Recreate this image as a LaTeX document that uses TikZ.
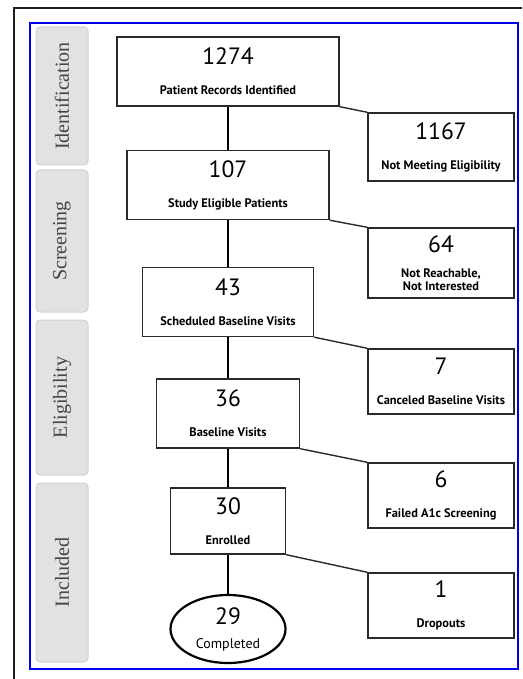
\documentclass[tikz,border=0pt]{standalone}
\usepackage{fontspec}
\setmainfont{Liberation Serif}
\setsansfont{PT Sans}
\usetikzlibrary{positioning, shapes.geometric}
\definecolor{tabfill}{HTML}{E2E2E2}
\definecolor{tabdraw}{HTML}{D2D2D2}
\definecolor{tabtext}{HTML}{444444}
\definecolor{boxline}{HTML}{2A2A2A}
\definecolor{framelue}{HTML}{0000F0}
\definecolor{outerline}{HTML}{1E1E1E}
\newcommand{\countnum}{\fontsize{11.8}{13}\selectfont\mdseries}
\newcommand{\countsub}{\fontsize{6.2}{6.8}\selectfont\bfseries}
\tikzset{
    stagebox/.style={
        draw=boxline, line width=0.7pt, fill=white,
        minimum width=#1, minimum height=34.5pt,
        inner sep=0pt, align=center, font=\sffamily,
    },
    sidebox/.style={
        draw=boxline, line width=0.7pt, fill=white,
        minimum width=73pt, minimum height=33pt,
        inner sep=0pt, align=center, font=\sffamily,
    },
    phasetab/.style={
        draw=tabdraw, fill=tabfill, rounded corners=2pt,
        line width=0.5pt,
        minimum width=26pt, minimum height=#1,
        inner sep=0pt,
    },
    phasetext/.style={
        font=\fontsize{10}{12}\selectfont, text=tabtext, rotate=90,
    },
    flowline/.style={line width=1.1pt, draw=black},
    exitline/.style={line width=0.7pt, draw=boxline},
}
\begin{document}
\begin{tikzpicture}[x=0.5pt, y=-0.5pt]
\useasboundingbox (0,0) rectangle (523,679);

% =============================================
% Outer frame lines and blue panel
% =============================================
\draw[outerline, line width=1pt] (14,679) -- (14,8) -- (522,8);
\draw[framelue, line width=1pt] (30,23) rectangle (518,669);

% =============================================
% Phase tabs (left column)
% =============================================
\node[phasetab=69pt] (tabident) at (62,96) {};
\node[phasetab=71pt] (tabscreen) at (62,241) {};
\node[phasetab=77.5pt] (tabelig) at (62,397.5) {};
\node[phasetab=89.5pt] (tabincl) at (62,572.5) {};
\node[phasetext] at (tabident) {Identification};
\node[phasetext] at (tabscreen) {Screening};
\node[phasetext] at (tabelig) {Eligibility};
\node[phasetext] at (tabincl) {Included};

% =============================================
% Main flow (centre column)
% =============================================
\node[stagebox=111pt] (records) at (228,71.5)
    {\countnum 1274\\[3pt]\countsub Patient Records Identified};
\node[stagebox=101pt] (eligible) at (228,185)
    {\countnum 107\\[3pt]\countsub Study Eligible Patients};
\node[stagebox=85.5pt] (scheduled) at (228,302)
    {\countnum 43\\[3pt]\countsub Scheduled Baseline Visits};
\node[stagebox=71.5pt] (baseline) at (228,413.5)
    {\countnum 36\\[3pt]\countsub Baseline Visits};
\node[stagebox=57.5pt, minimum height=33pt] (enrolled) at (228,521)
    {\countnum 30\\[3pt]\countsub Enrolled};
\node[ellipse, draw=black, line width=1.1pt, fill=white,
      minimum width=57.5pt, minimum height=34pt, inner sep=0pt,
      align=center, font=\sffamily] (completed) at (228,629)
    {\countnum 29\\[0pt]\fontsize{7}{8}\selectfont Completed};

% =============================================
% Exclusions (right column)
% =============================================
\node[sidebox, minimum height=34pt] (noteligible) at (441,147)
    {\countnum 1167\\[3pt]\countsub Not Meeting Eligibility};
\node[sidebox, minimum height=35pt] (unreached) at (441,263)
    {\countnum 64\\[0.5pt]\countsub Not Reachable,\\[-5.5pt]\countsub Not Interested};
\node[sidebox, minimum height=32.5pt] (canceled) at (441,381.5)
    {\countnum 7\\[3pt]\countsub Canceled Baseline Visits};
\node[sidebox, minimum height=32.5pt] (failed) at (441,495.5)
    {\countnum 6\\[3pt]\countsub Failed A1c Screening};
\node[sidebox, minimum height=32.5pt] (dropouts) at (441,605.5)
    {\countnum 1\\[3pt]\countsub Dropouts};

% =============================================
% Connectors
% =============================================
\draw[flowline] (records) -- (eligible);
\draw[flowline] (eligible) -- (scheduled);
\draw[flowline] (scheduled) -- (baseline);
\draw[flowline] (baseline) -- (enrolled);
\draw[flowline] (enrolled) -- (completed);

\draw[exitline] (records.south east) -- (noteligible.north west);
\draw[exitline] (eligible.south east) -- (unreached.north west);
\draw[exitline] (scheduled.south east) -- (canceled.north west);
\draw[exitline] (baseline.south east) -- (failed.north west);
\draw[exitline] (enrolled.south east) -- (dropouts.north west);

\end{tikzpicture}
\end{document}
